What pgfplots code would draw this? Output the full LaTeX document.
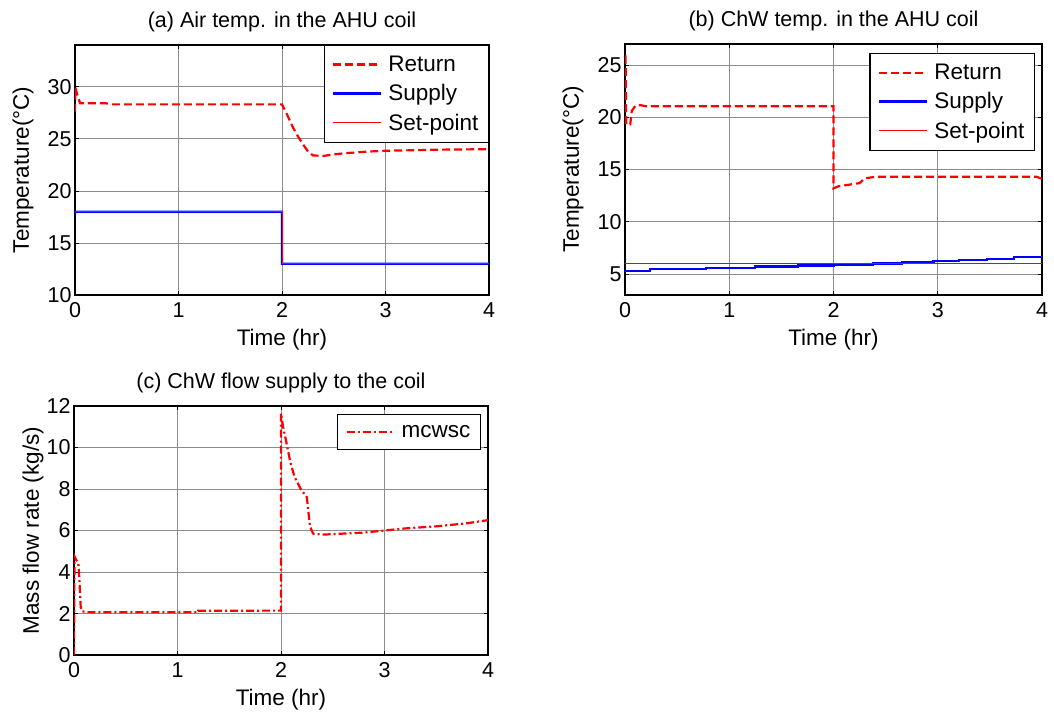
\documentclass[border=0pt]{standalone}
\usepackage{fontspec}
\setmainfont{Liberation Sans}
\usepackage{pgfplots}
\pgfplotsset{compat=1.18}
\definecolor{mred}{rgb}{1,0,0}
\definecolor{mblue}{rgb}{0,0,1}
\pgfplotsset{
 mystyle/.style={
  scale only axis, anchor=south west,
  xmin=0, xmax=4, xtick={0,1,2,3,4},
  grid=major, major grid style={black!45, line width=0.6pt},
  tick align=inside, tick pos=both, major tick length=4pt,
  tick style={black, line width=0.6pt},
  axis line style={line width=1.2pt},
  tick label style={font=\fontsize{21.5}{23}\selectfont},
  xticklabel style={yshift=-4pt},
  /pgf/number format/assume math mode=true,
  label style={font=\fontsize{22.5}{24}\selectfont},
  title style={font=\fontsize{21.5}{24}\selectfont, at={([yshift=17pt]axis description cs:0.5,1)}, anchor=center},
  xlabel style={at={([yshift=-45pt]axis description cs:0.5,0)}, anchor=center},
  ylabel style={at={([xshift=-52pt]axis description cs:0,0.5)}, anchor=center},
  legend style={font=\fontsize{22.5}{24}\selectfont, draw=black, line width=1.2pt, fill=white,
     inner xsep=8pt, inner ysep=8.5pt, row sep=7.5pt, column sep=4pt},
  legend image code/.code={\draw[#1] (0pt,0pt) -- (48pt,0pt);},
  legend cell align=left,
 },
 retstyle/.style={draw=mred, line width=2.2pt, dash pattern=on 8pt off 4pt},
 supstyle/.style={draw=mblue, line width=2.2pt, solid},
 spstyle/.style={draw=mred, line width=0.7pt, solid},
}
\begin{document}
\begin{tikzpicture}
\useasboundingbox (0,0) rectangle (1054pt,713pt);
% (a)
\begin{axis}[mystyle, at={(75pt,418pt)}, width=414pt, height=250pt,
  ymin=10, ymax=34, ytick={10,15,20,25,30},
  title={(a) Air temp. in the AHU coil}, xlabel={Time (hr)}, ylabel={Temperature(°C)},
  legend style={at={(1,1)}, anchor=north east}]
\addplot[retstyle] coordinates {(0,27.6) (0.004,29.9) (0.02,29.3) (0.05,28.4) (0.3,28.4) (0.35,28.3) (2.0,28.3) (2.05,27.3) (2.1,26.2) (2.15,25.3) (2.2,24.5) (2.25,23.8) (2.3,23.4) (2.4,23.35) (2.5,23.5) (2.6,23.6) (2.8,23.75) (3.0,23.85) (3.3,23.9) (3.5,23.95) (4.0,24.0)};
\addlegendentry{Return}
\addplot[supstyle] coordinates {(0,17.7) (0.003,18) (2,18) (2,13) (4,13)};
\addlegendentry{Supply}
\addplot[spstyle] coordinates {(0,18) (2,18) (2,13) (4,13)};
\addlegendentry{Set-point}
\end{axis}
% (b)
\begin{axis}[mystyle, at={(625pt,418pt)}, width=417pt, height=251pt,
  ymin=3, ymax=27, ytick={5,10,15,20,25},
  title={(b) ChW temp. in the AHU coil}, xlabel={Time (hr)}, ylabel={Temperature(°C)},
  legend style={at={(0.983,0.964)}, anchor=north east}]
\addplot[retstyle] coordinates {(0,25.8) (0.005,25.8) (0.012,19.3) (0.05,19.3) (0.065,20.6) (0.1,21.1) (0.15,21.15) (0.2,21.05) (2.0,21.05) (2.0,13.2) (2.05,13.4) (2.15,13.55) (2.25,13.7) (2.3,14.15) (2.4,14.3) (3.95,14.3) (4,14.1)};
\addlegendentry{Return}
\addplot[supstyle, const plot] coordinates {(0,5.3) (0.24,5.45) (0.78,5.6) (1.25,5.72) (1.66,5.82) (2.0,5.92) (2.38,6.02) (2.66,6.12) (2.96,6.24) (3.2,6.35) (3.47,6.46) (3.73,6.6) (4,6.6)};
\addlegendentry{Supply}
\addplot[spstyle] coordinates {(0,6) (4,6)};
\addlegendentry{Set-point}
\end{axis}
% (c)
\begin{axis}[mystyle, at={(74pt,58pt)}, width=414pt, height=249pt,
  ymin=0, ymax=12, ytick={0,2,4,6,8,10,12},
  title={(c) ChW flow supply to the coil}, xlabel={Time (hr)}, ylabel={Mass flow rate (kg/s)},
  ylabel style={at={([xshift=-41pt]axis description cs:0,0.5)}},
  legend style={at={(0.983,0.968)}, anchor=north east}]
\addplot[draw=mred, line width=2.2pt, dash pattern=on 8pt off 3pt on 2pt off 3pt] coordinates {(0,0) (0.005,4.75) (0.03,4.5) (0.045,4.3) (0.065,2.3) (0.08,2.1) (0.15,2.06) (1.2,2.06) (1.2,2.13) (2.0,2.14) (2.0,11.65) (2.02,11.0) (2.05,10.3) (2.09,9.3) (2.13,8.6) (2.19,8.0) (2.25,7.6) (2.28,6.2) (2.31,5.85) (2.4,5.8) (2.6,5.85) (2.8,5.9) (3.0,6.0) (3.2,6.1) (3.5,6.2) (3.8,6.35) (4.0,6.5)};
\addlegendentry{mcwsc}
\end{axis}
\end{tikzpicture}
\end{document}
